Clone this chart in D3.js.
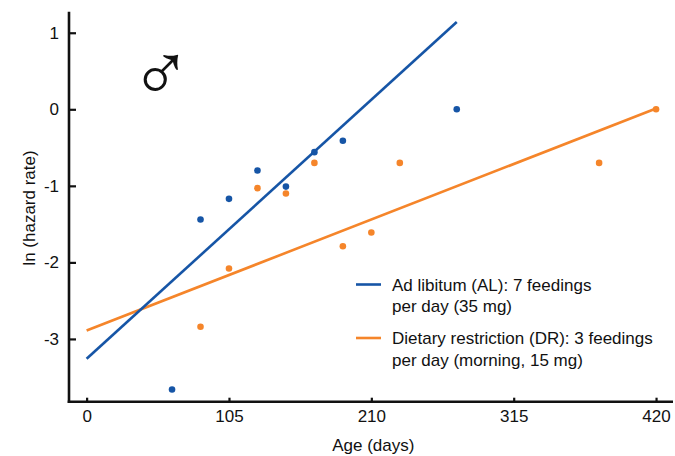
<!DOCTYPE html>
<html>
<head>
<meta charset="utf-8">
<script src="https://cdn.jsdelivr.net/npm/d3@7"></script>
<style>
  html, body { margin: 0; padding: 0; background: #fff; }
  svg { display: block; }
  text { font-family: "Liberation Sans", Arial, Helvetica, sans-serif; fill: #111; }
</style>
</head>
<body>
<svg id="chart" width="675" height="456"></svg>
<script>
// Age (days) at which hazard was estimated, and ln(hazard rate) per diet group
const alDays   = [63, 84, 105, 126, 147, 168, 189, 273];
const alValues = [-3.66, -1.44, -1.17, -0.80, -1.01, -0.56, -0.41, 0.00];

const drDays   = [84, 105, 126, 147, 168, 189, 210, 231, 378, 420];
const drValues = [-2.84, -2.08, -1.03, -1.10, -0.70, -1.79, -1.61, -0.70, -0.70, 0.00];

// Linear fits: [age, ln hazard] at start and end of each fitted line
const alFit = [[0, -3.26], [273, 1.14]];
const drFit = [[0, -2.89], [420, 0.01]];

const xTicks = [0, 105, 210, 315, 420];
const yTicks = [-3, -2, -1, 0, 1];

const legendLabels = [
  ["Ad libitum (AL): 7 feedings", "per day (35 mg)"],
  ["Dietary restriction (DR): 3 feedings", "per day (morning, 15 mg)"]
];

const BLUE = "#1655a6";
const ORANGE = "#f5852a";
const FONT = 17;

const svg = d3.select("#chart");

const x = d3.scaleLinear().domain([-13, 432.5]).range([69, 673]);
const y = d3.scaleLinear().domain([-3.82, 1.275]).range([401.7, 11.7]);

// Axes
const xAxis = d3.axisBottom(x)
  .tickValues(xTicks)
  .tickSizeInner(-4)
  .tickSizeOuter(0)
  .tickPadding(8.3)
  .tickFormat(d => String(d));

const yAxis = d3.axisLeft(y)
  .tickValues(yTicks)
  .tickSizeInner(-7)
  .tickSizeOuter(0)
  .tickPadding(10)
  .tickFormat(d => String(d));

const gx = svg.append("g")
  .attr("transform", `translate(0,${y.range()[0]})`)
  .call(xAxis);
const gy = svg.append("g")
  .attr("transform", `translate(${x.range()[0]},0)`)
  .call(yAxis);

[gx, gy].forEach(g => {
  g.select(".domain").attr("stroke", "#111").attr("stroke-width", 2.6);
  g.selectAll(".tick line").attr("stroke", "#111").attr("stroke-width", 2.2);
  g.selectAll(".tick text")
    .attr("font-size", FONT)
    .attr("font-family", "'Liberation Sans', Arial, Helvetica, sans-serif")
    .attr("fill", "#111");
});
// extend the axis lines so they meet at the corner
gx.select(".domain").attr("d", `M${x.range()[0] - 1.3},0H${x.range()[1]}`);
gy.select(".domain").attr("d", `M0,${y.range()[1]}V${y.range()[0] + 1.3}`);

// Axis titles
svg.append("text")
  .attr("x", (x(0) + x(420)) / 2 + 2)
  .attr("y", 451)
  .attr("text-anchor", "middle")
  .attr("font-size", FONT)
  .text("Age (days)");

svg.append("text")
  .attr("transform", `translate(35,208) rotate(-90)`)
  .attr("text-anchor", "middle")
  .attr("font-size", FONT)
  .text("ln (hazard rate)");

// Fitted lines
const line = d3.line().x(d => x(d[0])).y(d => y(d[1]));
svg.append("path").datum(drFit)
  .attr("d", line).attr("fill", "none")
  .attr("stroke", ORANGE).attr("stroke-width", 2.6);
svg.append("path").datum(alFit)
  .attr("d", line).attr("fill", "none")
  .attr("stroke", BLUE).attr("stroke-width", 2.6);

// Points
svg.append("g").selectAll("circle")
  .data(drDays.map((d, i) => [d, drValues[i]]))
  .join("circle")
  .attr("cx", d => x(d[0])).attr("cy", d => y(d[1]))
  .attr("r", 3.3).attr("fill", ORANGE);

svg.append("g").selectAll("circle")
  .data(alDays.map((d, i) => [d, alValues[i]]))
  .join("circle")
  .attr("cx", d => x(d[0])).attr("cy", d => y(d[1]))
  .attr("r", 3.3).attr("fill", BLUE);

// Male symbol
svg.append("text")
  .attr("x", 130)
  .attr("y", 101)
  .attr("font-family", "'DejaVu Sans', sans-serif")
  .attr("font-size", 82)
  .text("\u2642");

// Legend
const legend = svg.append("g");
const colors = [BLUE, ORANGE];
const rowTop = [290.5, 344];
legendLabels.forEach((lines, i) => {
  legend.append("line")
    .attr("x1", 356).attr("x2", 381)
    .attr("y1", rowTop[i] - 6).attr("y2", rowTop[i] - 6)
    .attr("stroke", colors[i]).attr("stroke-width", 2.6);
  const t = legend.append("text")
    .attr("x", 392).attr("y", rowTop[i])
    .attr("font-size", FONT);
  lines.forEach((s, j) => {
    t.append("tspan").attr("x", 392).attr("dy", j === 0 ? 0 : 21.7).text(s);
  });
});
</script>
</body>
</html>
